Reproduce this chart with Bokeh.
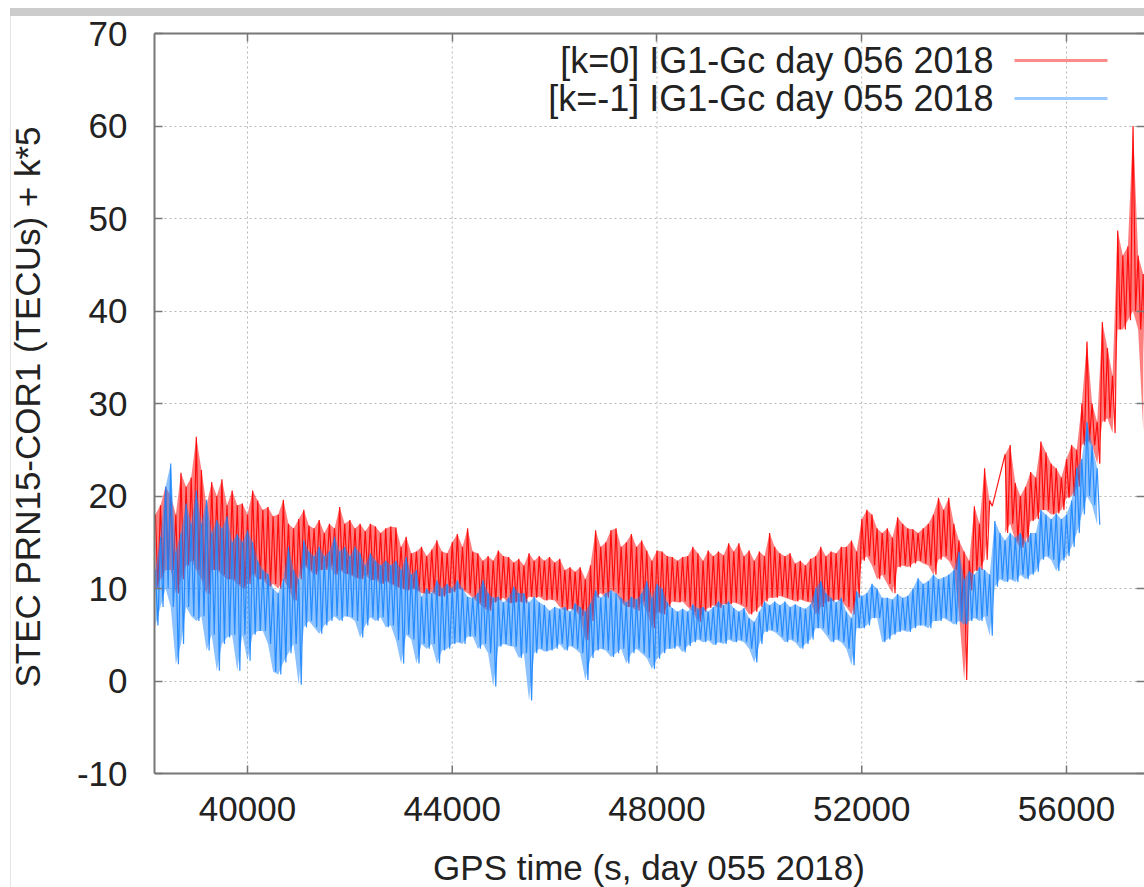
from bokeh.plotting import figure
from bokeh.models import Range1d, FixedTicker, Label, BoxAnnotation, LinearAxis, Span
from bokeh.core.properties import value
from bokeh.embed import file_html
from bokeh.resources import INLINE

# ---------------- data ----------------
# Each 100-s block: value at block start (hi) and at block start + 50 s (lo)
# [k=0] IG1-Gc day 056 2018 (red); data gap between ~54520 s and ~54790 s
red_block_t = list(range(38200, 54501, 100)) + list(range(54800, 57501, 100))
red_hi = [
    18, 19, 21, 20, 18, 22.5, 21, 22, 26.4, 22.8,
    19, 21.5, 20, 21.8, 19, 20.6, 19, 19.2, 18, 20.6,
    19.5, 18.5, 18.8, 17.8, 18, 19.6, 17, 16.5, 17.5, 18.5,
    16.8, 16.5, 17.4, 16, 17, 16.5, 18.8, 17, 17.4, 16.5,
    17, 16.2, 17, 16.7, 16, 16.5, 16.7, 16.6, 14.5, 15.6,
    13.8, 14, 14.5, 13.5, 14.2, 15.2, 14, 13.8, 15, 15.9,
    14.5, 16.5, 14, 13.8, 13, 13.5, 13, 14.1, 13.5, 13.4,
    12.8, 13.2, 12.5, 13.8, 13, 13.5, 13, 13.4, 12.8, 13.2,
    12, 12.3, 11.8, 12.3, 11, 12.5, 16.3, 14.5, 15, 16.3,
    16.5, 14.5, 15, 15.9, 14.5, 15.2, 14.1, 13, 14.1, 14,
    13.5, 13.4, 13, 13.4, 13.5, 14.5, 13.8, 13, 14.1, 13.5,
    14, 13.6, 14.9, 14, 14.9, 13.5, 14.1, 13, 14, 13.5,
    16, 14.5, 13.8, 13.5, 13.8, 12.7, 13, 12.5, 13.2, 13.5,
    14.5, 13.5, 14, 13.8, 14.5, 14.5, 15.2, 14, 17.5, 18.5,
    18, 16.5, 16, 16.5, 15.5, 17.7, 17, 16.5, 16.4, 16,
    16.5, 17, 18, 19.8, 18.5, 19.8, 17, 15.2, 14, 13,
    18.9, 17, 23, 19.5,
    24.5, 25.5, 21.4, 20, 21, 22.6, 22, 25.9, 24.7, 23.5,
    23, 22, 24, 25.5, 25, 30, 36.7, 30, 28, 38.8,
    36, 33, 48.7, 46, 47, 60, 46, 44,
]
red_lo = [
    10, 11, 12, 12, 9.5, 11, 12.5, 13, 12, 11,
    9.4, 12, 12, 11.5, 11, 11, 10.5, 10, 10.5, 11.6,
    11, 11, 10.2, 10.5, 10, 11, 10, 8.7, 11, 12.5,
    12, 11.5, 12, 12, 12.5, 11.5, 12, 11.6, 11.5, 11.2,
    11, 11.5, 10.9, 11, 10.5, 10.8, 10.5, 10.2, 10, 9.8,
    10, 9.8, 9.5, 9.4, 9.6, 9.2, 9.1, 9.5, 9.6, 10,
    9.8, 9.5, 9, 8.5, 8, 7.6, 8.5, 8.7, 9, 8.4,
    8.5, 8.6, 8.4, 9.1, 9, 9.1, 8.7, 8.8, 8.7, 8,
    7.6, 7.8, 7.6, 7, 4.4, 6.5, 9, 9.5, 9, 9.8,
    9.5, 8.5, 8, 8, 7.6, 8.6, 7.5, 5.7, 7.5, 7.2,
    8, 8.6, 8.5, 8.6, 8, 7.5, 6.4, 7.5, 7.9, 8.2,
    7.9, 8.3, 8.3, 8.5, 8.3, 8, 7.2, 7.5, 8, 8.6,
    9, 9, 9.2, 9, 8.8, 8.6, 8.8, 8.6, 8.5, 7.2,
    8, 8.6, 8.6, 8.8, 8.6, 8, 7.2, 9, 13, 13.5,
    12.5, 11, 11.5, 10.5, 9.5, 12.3, 12.5, 12.3, 12.7, 13,
    12.7, 12.5, 11.5, 13.1, 13.5, 13, 12, 7.4, 0.1, 9.8,
    11.9, 12, 13.1, 18.9,
    16, 17, 15.2, 14.4, 15, 17.3, 17.5, 18.5, 18.5, 18,
    18.1, 18.5, 19.8, 20, 21, 25.5, 26, 25.5, 23.5, 28,
    28.4, 26.8, 38, 38, 39, 40, 38, 27,
]
red_gap_index = 164  # first block after the data gap

# [k=-1] IG1-Gc day 055 2018 (blue)
blue_block_t = list(range(38200, 56601, 100))
blue_hi = [
    12, 15.6, 21, 23.5, 14, 16, 19.2, 17, 20.6, 17,
    19.6, 16, 17.4, 16.5, 17.8, 15, 15.9, 15, 16.3, 15,
    13, 12, 11.6, 10, 9.5, 11, 14.5, 12, 11, 15.2,
    14, 13.5, 14.5, 13.5, 14, 15.6, 14, 14.5, 13.5, 14.5,
    13.8, 12.5, 13.8, 13, 12.5, 13, 12.5, 13, 12, 13.4,
    11.5, 12, 9.1, 10, 9.5, 10.9, 10, 10.5, 10, 10.9,
    10, 9.1, 9, 9.5, 10.9, 9.5, 9, 9.1, 8.5, 9,
    10.2, 9.5, 9.5, 8.5, 9.1, 8.5, 8.2, 7.6, 8, 7.8,
    8, 7.5, 8.4, 8, 7.5, 8.4, 9.8, 9, 9.5, 9.8,
    9.5, 9, 8.5, 9.1, 8.8, 9.5, 10.8, 9, 10.5, 10,
    8.5, 7.9, 7.5, 7.8, 7.5, 8.3, 7.8, 8, 7.5, 8,
    8.6, 8.2, 8.6, 7.9, 7.5, 7.9, 6.8, 6.4, 7.5, 8.6,
    8.2, 8.6, 8.2, 8.6, 8, 8.3, 8, 7.8, 8.3, 10,
    10.8, 9.5, 9, 8.5, 9, 7.5, 6.8, 9.7, 9.2, 9.5,
    10.5, 10, 9, 9, 8.8, 9.4, 9, 9.2, 10, 11.1,
    10.5, 10.8, 11.5, 11, 11.2, 11.5, 12, 14, 11, 11.9,
    11.5, 12.3, 12, 11.5, 17.3, 16, 15.2, 16, 15.5, 16,
    15, 16, 16, 18.5, 18, 17.5, 18.1, 17.5, 18, 19.5,
    23, 24, 28, 25.5, 23,
]
blue_lo = [
    6, 8, 10, 8, 1.8, 4, 8, 7, 6.5, 7,
    3.3, 5, 1.1, 4, 4.7, 5, 1.1, 5, 2.2, 5,
    5.4, 5.4, 4, 1, 0.7, 2, 3, 4, -0.4, 5.8,
    6.5, 5.8, 5.1, 6, 6.5, 7, 6.5, 7, 6.9, 6.5,
    4.7, 6, 6.9, 6.5, 6.9, 5.8, 6, 4.4, 1.9, 5,
    4.5, 1.9, 4, 3.5, 4, 1.9, 3.3, 3.5, 4, 4.2,
    4, 4.8, 4.8, 3.5, 4, 3, -0.6, 3.7, 4, 3.8,
    3.7, 2.5, 3, -2.1, 3, 3.5, 3.2, 3.3, 3.5, 4,
    3.3, 3.8, 3.5, 3, 0.1, 2.5, 3.3, 3.5, 3.3, 2.6,
    3, 3.5, 1.9, 3, 3.5, 3, 2.5, 1.3, 2.4, 3,
    3.5, 3.5, 3.8, 3.1, 3.8, 4.2, 4.5, 4.2, 4.4, 3.9,
    4.2, 4, 4.5, 4.2, 4.4, 4.2, 3.5, 2, 4, 5.3,
    5.5, 5.3, 4.8, 4.2, 4.5, 4.2, 3.5, 4, 4.5, 5.7,
    5.7, 5, 4.2, 4.5, 4.2, 3.5, 1.7, 5.7, 5.7, 6,
    6.8, 6.8, 4.2, 4.5, 5, 5.3, 5.5, 5.3, 5.7, 6,
    6, 5.7, 6.5, 6.5, 6.8, 6.5, 6.1, 6.5, 6.1, 6.5,
    6.8, 6.5, 7, 4.9, 10.2, 11, 10.7, 11, 10.7, 11.5,
    11, 11.5, 11.8, 13.1, 13.5, 13.1, 11.9, 13, 13.5, 14.5,
    16, 18, 20, 19, 16.9,
]

x_ticks = [40000, 44000, 48000, 52000, 56000]
x_tick_labels = ["40000", "44000", "48000", "52000", "56000"]
y_ticks = [-10, 0, 10, 20, 30, 40, 50, 60, 70]
y_min, y_max = -10, 70
x_label = "GPS time (s, day 055 2018)"
y_label = "STEC PRN15-COR1 (TECUs) + k*5"
legend_labels = ["[k=0] IG1-Gc day 056 2018", "[k=-1] IG1-Gc day 055 2018"]

RED = "#ff0000"
BLUE = "#1a85ff"
FONT = "Liberation Sans"
FS = "35px"
TXT = "#222222"
AX = "#777777"
GRID = "#b5b5b5"


def series(ts, hi, lo):
    n = min(len(ts), len(hi), len(lo))
    xs, ys = [], []
    for t, h, l in zip(ts[:n], hi[:n], lo[:n]):
        xs += [t, t + 50]
        ys += [h, l]
    return xs, ys


rx, ry = series(red_block_t, red_hi, red_lo)
bx, by = series(blue_block_t, blue_hi, blue_lo)

# the frame reaches the bottom of the page so the x-axis texts can sit where the
# original has them; the plotting box itself spans y_min..y_max (33..773 px)
px_per_unit = 740 / (y_max - y_min)
y_bottom = y_min - 114 / px_per_unit

p = figure(width=1144, height=887, output_backend="svg", toolbar_location=None,
           x_range=Range1d(38183, 57524), y_range=Range1d(y_bottom, y_max),
           x_axis_location=None,
           min_border_left=154, min_border_right=0, min_border_top=33,
           min_border_bottom=0, background_fill_color="white",
           border_fill_color=None)
p.outline_line_color = None
# surrounding window chrome of the original screenshot (grey bar + thin left rule)
p.styles = {"background": "linear-gradient(#cccccc,#cccccc) 10px 8px / 1134px 8px no-repeat, "
                          "linear-gradient(#e4e4e4,#e4e4e4) 10px 16px / 1px 871px no-repeat, #ffffff"}

# grid
p.xgrid.visible = False
p.ygrid.ticker = FixedTicker(ticks=y_ticks)
p.ygrid.grid_line_color = GRID
p.ygrid.grid_line_dash = "2 3"
p.segment(x0=x_ticks, y0=[y_min] * len(x_ticks), x1=x_ticks, y1=[y_max] * len(x_ticks),
          line_color=GRID, line_dash="2 3", line_width=1)

# data
g = red_gap_index
p.varea(x=red_block_t[:g], y1=red_lo[:g], y2=red_hi[:g], fill_color=RED, fill_alpha=0.5)
p.varea(x=red_block_t[g:], y1=red_lo[g:], y2=red_hi[g:], fill_color=RED, fill_alpha=0.5)
p.line(rx, ry, line_color=RED, line_width=1.2, line_alpha=0.9)
p.varea(x=blue_block_t, y1=blue_lo, y2=blue_hi, fill_color=BLUE, fill_alpha=0.5)
p.line(bx, by, line_color=BLUE, line_width=1.2, line_alpha=0.9)

# bottom border, ticks, tick labels and title of the x axis
p.add_layout(Span(location=y_min, dimension="width", line_color=AX, line_width=2))
p.ray(x=x_ticks, y=[y_min] * len(x_ticks), length=8, length_units="screen",
      angle=90, angle_units="deg", line_color=AX, line_width=1.5)
p.text(x=x_ticks, y=[y_min] * len(x_ticks), text=x_tick_labels, text_font=value(FONT),
       text_font_size=value(FS), text_color=TXT, text_align="center",
       text_baseline="middle", y_offset=35)
p.add_layout(Label(x=648.5, y=867, x_units="canvas", y_units="canvas", text=x_label,
                   text_align="center", text_baseline="middle", text_font=FONT,
                   text_font_size=FS, text_color=TXT))

# left axis (label padded at its start with no-break spaces so that it is
# centred on the plotting box rather than on the taller frame)
ya = p.yaxis[0]
ya.bounds = (y_min, y_max)
ya.ticker = FixedTicker(ticks=y_ticks)
ya.major_label_overrides = {-10: "-10"}
ya.axis_line_color = AX
ya.axis_line_width = 2
ya.major_tick_line_color = AX
ya.major_tick_line_width = 1.5
ya.major_tick_in = 8
ya.major_tick_out = 0
ya.minor_tick_line_color = None
ya.major_label_text_font = FONT
ya.major_label_text_font_size = FS
ya.major_label_text_color = TXT
ya.major_label_standoff = 27
ya.axis_label = "\u00a0" * 11 + y_label
ya.axis_label_text_font = FONT
ya.axis_label_text_font_size = FS
ya.axis_label_text_font_style = "normal"
ya.axis_label_text_color = TXT
ya.axis_label_standoff = 27

# mirrored ticks: top border and right side
top = LinearAxis(ticker=FixedTicker(ticks=x_ticks))
right = LinearAxis(ticker=FixedTicker(ticks=y_ticks), bounds=(y_min, y_max))
for ax, line_col in ((top, AX), (right, None)):
    ax.axis_line_color = line_col
    ax.axis_line_width = 2
    ax.major_tick_line_color = AX
    ax.major_tick_line_width = 1.5
    ax.major_tick_in = 8
    ax.major_tick_out = 0
    ax.minor_tick_line_color = None
    ax.major_label_text_font_size = "1px"
    ax.major_label_text_color = None
    ax.major_label_standoff = 0
p.add_layout(top, "above")
p.add_layout(right, "right")

# legend (gnuplot style: text right-aligned, sample line on the right)
for i, (lab, col) in enumerate(zip(legend_labels, ["#ff8a8a", "#9cc9ff"])):
    yc = 60 + 38 * i
    p.add_layout(Label(x=993, y=yc, x_units="canvas", y_units="canvas", text=lab,
                       text_align="right", text_baseline="middle", text_font=FONT,
                       text_font_size="36px", text_color=TXT))
    p.add_layout(BoxAnnotation(left=1014, right=1107, top=yc - 1.5, bottom=yc + 1.5,
                               left_units="canvas", right_units="canvas",
                               top_units="canvas", bottom_units="canvas",
                               fill_color=col, fill_alpha=1, line_color=None))

open("out.html", "w").write(file_html(p, INLINE))
